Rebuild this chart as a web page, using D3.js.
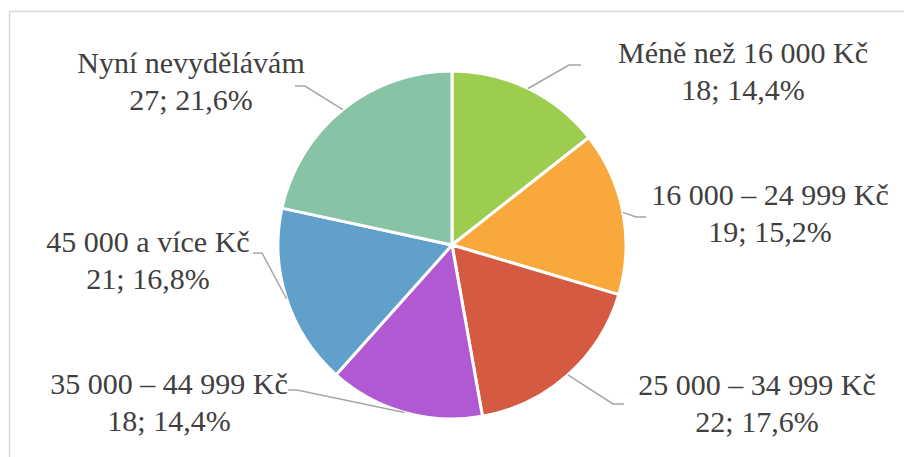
<!DOCTYPE html>
<html><head><meta charset="utf-8">
<script src="https://cdn.jsdelivr.net/npm/d3@7"></script>
<style>html,body{margin:0;padding:0;background:#fff}</style>
</head><body>
<svg id="chart" width="904" height="457"></svg>
<script>
const categories = ["Méně než 16 000 Kč", "16 000 – 24 999 Kč", "25 000 – 34 999 Kč", "35 000 – 44 999 Kč", "45 000 a více Kč", "Nyní nevydělávám"];
const counts = [18, 19, 22, 18, 21, 27];
const percents = ["14,4%", "15,2%", "17,6%", "14,4%", "16,8%", "21,6%"];
const colors = ["#9DCD4E", "#F9A83B", "#D55A42", "#B158D3", "#62A0CC", "#88C3A6"];

// layout: label center x, first baseline y, leader elbow and end
const labelLayout = [
  {x: 743, y: 63, ex: 569, ey: 65, hx: 581},
  {x: 770, y: 205, ex: 636, ey: 217, hx: 646},
  {x: 757, y: 395, ex: 613, ey: 404, hx: 624},
  {x: 169, y: 394, ex: 297, ey: 390, hx: 288},
  {x: 148, y: 252, ex: 262, ey: 253, hx: 253},
  {x: 191, y: 73, ex: 305, ey: 86, hx: 295}
];

const svg = d3.select("#chart");
svg.append("rect").attr("x", 9.5).attr("y", 11.5).attr("width", 1000).attr("height", 1000)
  .attr("fill", "none").attr("stroke", "#d9d9d9").attr("stroke-width", 1.5);

const cx = 452, cy = 245, R = 174;
const g = svg.append("g").attr("transform", `translate(${cx},${cy})`);
const pie = d3.pie().sort(null).value(d => d);
const arcs = pie(counts);
const arc = d3.arc().innerRadius(0).outerRadius(R);

g.selectAll("path.slice").data(arcs).join("path")
  .attr("class", "slice")
  .attr("d", arc)
  .attr("fill", (d, i) => colors[i])
  .attr("stroke", "#fff").attr("stroke-width", 3).attr("stroke-linejoin", "round");

svg.selectAll("path.leader").data(arcs).join("path")
  .attr("class", "leader")
  .attr("fill", "none").attr("stroke", "#a6a6a6").attr("stroke-width", 1.5)
  .attr("d", (d, i) => {
    const a = (d.startAngle + d.endAngle) / 2;
    const sx = cx + R * Math.sin(a), sy = cy - R * Math.cos(a);
    const L = labelLayout[i];
    return `M${sx},${sy}L${L.ex},${L.ey}L${L.hx},${L.ey}`;
  });

const lines = [];
arcs.forEach((d, i) => {
  lines.push({x: labelLayout[i].x, y: labelLayout[i].y, t: categories[i]});
  lines.push({x: labelLayout[i].x, y: labelLayout[i].y + 36.5, t: `${counts[i]}; ${percents[i]}`});
});
svg.selectAll("text").data(lines).join("text")
  .attr("x", d => d.x).attr("y", d => d.y)
  .attr("text-anchor", "middle")
  .attr("font-family", "Liberation Serif")
  .style("font-family", '"Liberation Serif"')
  .style("font-size", "30px")
  .attr("fill", "#404040")
  .text(d => d.t);
</script>
</body></html>
